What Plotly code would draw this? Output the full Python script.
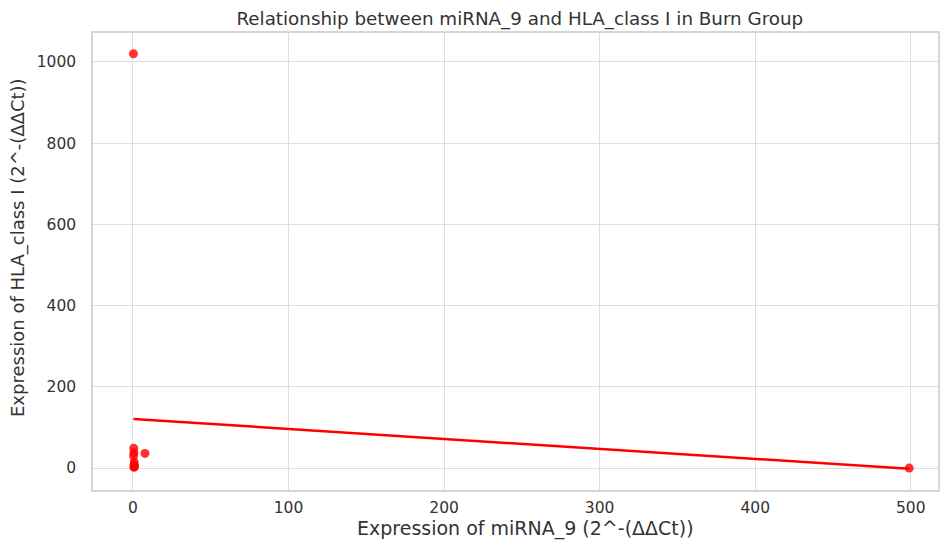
import numpy as np
import plotly.graph_objects as go

mirna_9 = [0.3, 0.5, 0.6, 0.4, 7.7, 0.8, 0.7, 1.0, 0.9, 0.6, 499.0]
hla_class_i = [1020, 49, 38, 30, 36, 15, 8, 5, 3, 2, 0]

x = np.array(mirna_9)
y = np.array(hla_class_i)
slope, intercept = np.polyfit(x, y, 1)
xl = np.array([x.min(), x.max()])
yl = intercept + slope * xl

fig = go.Figure()
fig.add_trace(go.Scatter(x=x, y=y, mode="markers",
                         marker=dict(color="rgba(255,0,0,0.8)", size=9, line=dict(width=0)),
                         showlegend=False))
fig.add_trace(go.Scatter(x=xl, y=yl, mode="lines",
                         line=dict(color="red", width=2.5), showlegend=False))

axis_common = dict(showgrid=True, gridcolor="#dedede", gridwidth=1, zeroline=False,
                   showline=True, linecolor="#d6d6d6", linewidth=1.5, mirror=True,
                   ticks="", tickfont=dict(size=15.5, color="#333"))

fig.update_layout(
    width=940, height=541,
    margin=dict(l=93, r=0, t=33, b=51),
    paper_bgcolor="white", plot_bgcolor="white",
    font=dict(family="DejaVu Sans", color="#333"),
    title=dict(text="Relationship between miRNA_9 and HLA_class I in Burn Group",
               x=0.553, xanchor="center", y=0.966, yanchor="middle",
               font=dict(size=18.3, color="#333")),
    xaxis=dict(range=[-25.7, 517.5], tickvals=[0, 100, 200, 300, 400, 500],
               ticklabelstandoff=3, **axis_common),
    yaxis=dict(range=[-54, 1071], tickvals=[0, 200, 400, 600, 800, 1000],
               ticklabelstandoff=12, **axis_common),
    annotations=[
        dict(text="Expression of miRNA_9 (2^-(ΔΔCt))", xref="paper", yref="paper",
             x=0.512, y=0, xanchor="center", yanchor="middle", yshift=-38,
             showarrow=False, font=dict(size=19, color="#333")),
        dict(text="Expression of HLA_class I (2^-(ΔΔCt))", xref="paper", yref="paper",
             x=0, y=0.5295, xanchor="center", yanchor="middle", xshift=-75,
             textangle=-90, showarrow=False, font=dict(size=18, color="#333")),
    ],
)

fig.write_html("out.html")
